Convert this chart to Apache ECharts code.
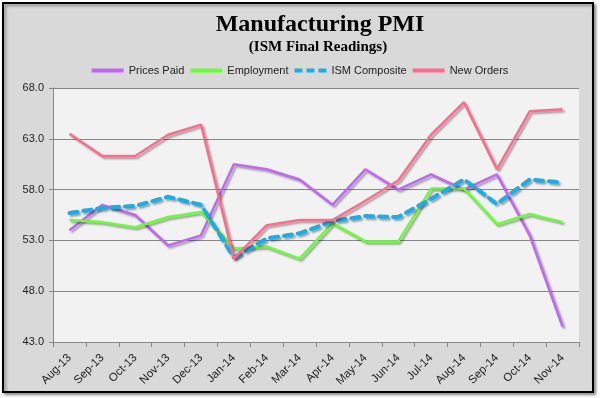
<!DOCTYPE html>
<html>
<head>
<meta charset="utf-8">
<script src="https://cdn.jsdelivr.net/npm/echarts@6/dist/echarts.min.js"></script>
<style>
  html, body { margin: 0; padding: 0; background: #fff; }
  #chart { width: 600px; height: 398px; }
</style>
</head>
<body>
<div id="chart"></div>
<script>
// Chart data
const months = ['Aug-13', 'Sep-13', 'Oct-13', 'Nov-13', 'Dec-13', 'Jan-14', 'Feb-14', 'Mar-14',
    'Apr-14', 'May-14', 'Jun-14', 'Jul-14', 'Aug-14', 'Sep-14', 'Oct-14', 'Nov-14'];
const pricesPaid = [54.0, 56.5, 55.5, 52.5, 53.5, 60.5, 60.0, 59.0, 56.5, 60.0, 58.0, 59.5, 58.0, 59.5, 53.5, 44.5];
const employment = [55.0, 54.8, 54.3, 55.3, 55.8, 52.2, 52.4, 51.2, 54.7, 52.9, 52.9, 58.1, 58.1, 54.6, 55.6, 54.8];
const ismComposite = [55.7, 56.2, 56.4, 57.3, 56.5, 51.3, 53.2, 53.7, 54.9, 55.4, 55.3, 57.1, 59.0, 56.6, 59.0, 58.7];
const newOrders = [63.5, 61.3, 61.3, 63.4, 64.4, 51.2, 54.5, 55.0, 55.0, 56.9, 58.9, 63.4, 66.6, 60.0, 65.7, 65.9];
const yTicks = { min: 43, max: 68, step: 5 };

const colors = {
    prices: '#c266f5',
    employment: '#66ff33',
    composite: '#1aaee8',
    orders: '#ff6b8e',
    axis: '#888888',
    text: '#222222'
};

const myChart = echarts.init(document.getElementById('chart'));

const shadow = {
    shadowColor: 'rgba(0,0,0,0.35)',
    shadowBlur: 2,
    shadowOffsetX: 2,
    shadowOffsetY: 2
};

function lineSeries(name, data, color, extra) {
    return {
        name: name,
        type: 'line',
        data: data,
        symbol: 'none',
        smooth: false,
        lineStyle: Object.assign({ color: color, width: 2.5 }, shadow, extra || {}),
        itemStyle: { color: color },
        z: 3
    };
}

const serifFont = 'Liberation Serif, serif';

const option = {
    backgroundColor: '#ffffff',
    animation: false,
    textStyle: { fontFamily: 'Liberation Sans, sans-serif' },
    graphic: [{
        type: 'rect',
        z: -10,
        shape: { x: 3, y: 3, width: 590, height: 389 },
        style: {
            fill: '#d9d9d9',
            stroke: '#000',
            lineWidth: 2,
            shadowColor: 'rgba(0,0,0,0.4)',
            shadowBlur: 3,
            shadowOffsetX: 2,
            shadowOffsetY: 2
        }
    }, {
        // main title, centred over the plot area
        type: 'text',
        x: 320,
        y: 25,
        style: {
            text: 'Manufacturing PMI',
            fill: '#000',
            font: 'bold 24px ' + serifFont,
            align: 'center',
            verticalAlign: 'middle'
        }
    }, {
        type: 'text',
        x: 318,
        y: 47,
        style: {
            text: '(ISM Final Readings)',
            fill: '#000',
            font: 'bold 15px ' + serifFont,
            align: 'center',
            verticalAlign: 'middle'
        }
    }],
    legend: {
        top: 60,
        left: 'center',
        itemWidth: 32,
        itemHeight: 4,
        itemGap: 6,
        textStyle: { fontSize: 11, color: colors.text },
        data: [
            { name: 'Prices Paid', icon: 'rect' },
            { name: 'Employment', icon: 'rect' },
            { name: 'ISM Composite', icon: 'path://M0,0h8v4h-8z M12,0h8v4h-8z M24,0h8v4h-8z' },
            { name: 'New Orders', icon: 'rect' }
        ]
    },
    grid: {
        left: 53,
        right: 21,
        top: 88,
        bottom: 56,
        show: true,
        backgroundColor: '#f2f2f2',
        borderWidth: 0
    },
    xAxis: {
        type: 'category',
        data: months,
        boundaryGap: true,
        axisLine: { lineStyle: { color: colors.axis } },
        axisTick: { show: true, length: 5, lineStyle: { color: colors.axis } },
        axisLabel: {
            rotate: 45,
            fontSize: 11.5,
            color: colors.text,
            margin: 14,
            interval: 0
        },
        splitLine: { show: false }
    },
    yAxis: {
        type: 'value',
        min: yTicks.min,
        max: yTicks.max,
        interval: yTicks.step,
        axisLine: { show: true, lineStyle: { color: colors.axis } },
        axisTick: { show: true, length: 4, lineStyle: { color: colors.axis } },
        axisLabel: {
            fontSize: 11,
            color: colors.text,
            margin: 9,
            formatter: v => v.toFixed(1)
        },
        splitLine: { lineStyle: { color: colors.axis, width: 1 } }
    },
    series: [
        lineSeries('Prices Paid', pricesPaid, colors.prices),
        lineSeries('Employment', employment, colors.employment),
        lineSeries('ISM Composite', ismComposite, colors.composite, { width: 4, type: [8, 6], cap: 'round' }),
        lineSeries('New Orders', newOrders, colors.orders)
    ]
};

myChart.setOption(option);
</script>
</body>
</html>
